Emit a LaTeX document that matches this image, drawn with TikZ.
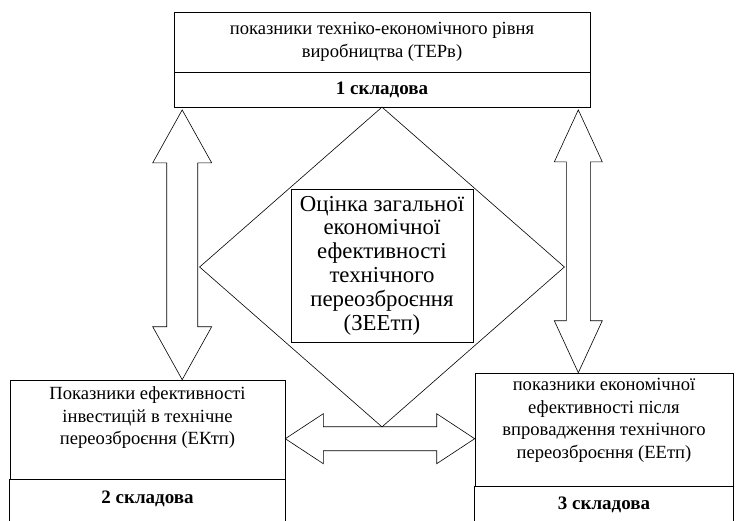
\documentclass[tikz,border=0pt]{standalone}
\usepackage{fontspec}
\setmainfont{Liberation Serif}
\usetikzlibrary{calc,positioning,shapes.geometric}

% block arrow with two heads, vertical and horizontal
\newcommand{\vblock}[5]{%
\draw let \p1=(#1), \p2=(#2) in (\p1) -- (\x1+#3pt,\y1-#5pt) -- (\x1+#4pt,\y1-#5pt)
-- (\x1+#4pt,\y2+#5pt) -- (\x1+#3pt,\y2+#5pt) -- (\p2) -- (\x1-#3pt,\y2+#5pt)
-- (\x1-#4pt,\y2+#5pt) -- (\x1-#4pt,\y1-#5pt) -- (\x1-#3pt,\y1-#5pt) -- cycle;}
\newcommand{\hblock}[5]{%
\draw let \p1=(#1), \p2=(#2) in (\p1) -- (\x1+#5pt,\y1+#3pt) -- (\x1+#5pt,\y1+#4pt)
-- (\x2-#5pt,\y1+#4pt) -- (\x2-#5pt,\y1+#3pt) -- (\p2) -- (\x2-#5pt,\y1-#3pt)
-- (\x2-#5pt,\y1-#4pt) -- (\x1+#5pt,\y1-#4pt) -- (\x1+#5pt,\y1-#3pt) -- cycle;}

\begin{document}
\begin{tikzpicture}[x=1pt,y=-1pt,line width=0.6pt]
\tikzstyle{box}=[draw,rectangle,inner sep=0pt]
\tikzstyle{txt}=[align=center,font=\fontsize{18.6}{22.5}\selectfont]
\tikzstyle{num}=[font=\fontsize{19}{22}\selectfont\bfseries]
\tikzstyle{big}=[align=center,font=\fontsize{22.8}{23.8}\selectfont]

\useasboundingbox (0,0) rectangle (736,520);

\node[box,txt,minimum width=416pt,minimum height=60pt] (ter) at (382,42) {показники техніко-економічного рівня\\виробництва (ТЕРв)};
\node[box,num,minimum width=416pt,minimum height=35pt,below=0pt of ter] (ter1) {1 складова};

\node[diamond,draw,minimum width=365pt,minimum height=320pt,inner sep=0pt] (dia) at (382,267) {};
\node[box,big,minimum width=182pt,minimum height=153pt] (zee) at (382,265.5) {Оцінка загальної\\економічної\\ефективності\\технічного\\переозброєння\\(ЗЕЕтп)};

\node[box,minimum width=275pt,minimum height=99pt] (ekt) at (147.5,429.5) {};
\node[txt] (ekttxt) at (147.5,418) {Показники ефективності\\інвестицій в технічне\\переозброєння (ЕКтп)};
\draw (ekt.south west) -- ++(0,50) (ekt.south east) -- ++(0,50);
\node[num] (ekt2) at (147.5,499) {2 складова};

\node[box,minimum width=258pt,minimum height=113pt] (eet) at (604,429.5) {};
\node[txt] (eettxt) at (604,420.5) {показники економічної\\ефективності після\\впровадження технічного\\переозброєння (ЕЕтп)};
\draw (eet.south west) -- ++(0,50) (eet.south east) -- ++(0,50);
\node[num] (eet2) at (604,505) {3 складова};

\coordinate (t1) at ($(ter1.south west)+(8.5,2)$);
\coordinate (b1) at (t1 |- ekt.north);
\vblock{t1}{b1}{29.5}{15.5}{53}
\coordinate (t2) at ($(ter1.south east)+(-12,2)$);
\coordinate (b2) at (t2 |- eet.north);
\vblock{t2}{b2}{24}{12}{52}
\coordinate (l3) at ($(ekt.north east)+(0,59)$);
\coordinate (r3) at (l3 -| eet.west);
\hblock{l3}{r3}{25}{12}{38}
\end{tikzpicture}
\end{document}
